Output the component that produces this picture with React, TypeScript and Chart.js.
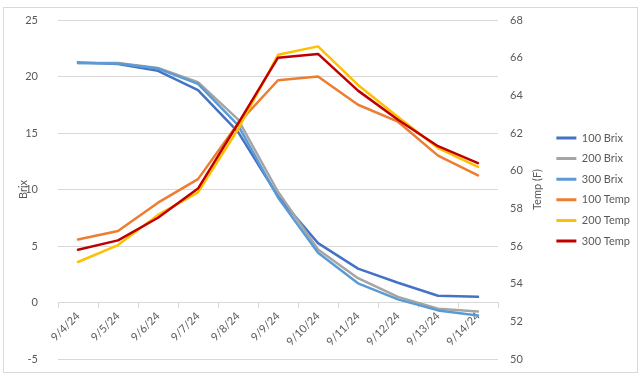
import React, { useEffect, useRef } from 'react';
import { Chart, registerables } from 'chart.js';

Chart.register(...registerables);

const categories = ['9/4/24', '9/5/24', '9/6/24', '9/7/24', '9/8/24', '9/9/24', '9/10/24', '9/11/24', '9/12/24', '9/13/24', '9/14/24'];

const brix100 = [21.25, 21.1, 20.5, 18.8, 15.1, 9.4, 5.25, 3.0, 1.75, 0.6, 0.5];
const brix200 = [21.2, 21.2, 20.75, 19.5, 16.2, 9.8, 4.7, 2.15, 0.5, -0.55, -0.8];
const brix300 = [21.2, 21.15, 20.7, 19.35, 15.7, 9.3, 4.4, 1.7, 0.28, -0.7, -1.15];
const temp100 = [56.35, 56.8, 58.3, 59.55, 62.5, 64.8, 65.0, 63.5, 62.6, 60.8, 59.75];
const temp200 = [55.15, 56.05, 57.65, 58.85, 62.2, 66.15, 66.6, 64.55, 62.85, 61.2, 60.2];
const temp300 = [55.8, 56.3, 57.5, 59.05, 62.5, 66.0, 66.2, 64.25, 62.7, 61.3, 60.4];

const seriesNames = ['100 Brix', '200 Brix', '300 Brix', '100 Temp', '200 Temp', '300 Temp'];
const seriesColors = ['#4472C4', '#A5A5A5', '#5B9BD5', '#ED7D31', '#FFC000', '#C00000'];

const brixTicks = { min: -5, max: 25, step: 5 };
const tempTicks = { min: 50, max: 68, step: 2 };
const leftAxisTitle = 'Brix';
const rightAxisTitle = 'Temp (F)';

export default function App() {
  const ref = useRef<HTMLCanvasElement>(null);

  useEffect(() => {
    document.body.style.margin = '0';
    const canvas = ref.current;
    if (!canvas) return;
    const FONT = 'Lato';
    const textColor = '#595959';
    const gridColor = '#D9D9D9';
    const padRight = 0;
    const plotRight = 498;

    const rightTitlePlugin = {
      id: 'rightTitle',
      afterDraw(chart: any) {
        const c = chart.ctx;
        const area = chart.chartArea;
        c.save();
        c.font = `11px ${FONT}`;
        c.fillStyle = textColor;
        c.translate(537, (area.top + area.bottom) / 2);
        c.rotate(-Math.PI / 2);
        c.textAlign = 'center';
        c.textBaseline = 'middle';
        c.fillText(rightAxisTitle, 0, 0);
        c.restore();
      },
    };

    const allSeries = [brix100, brix200, brix300, temp100, temp200, temp300];

    const chart = new Chart(canvas, {
      type: 'line',
      data: {
        labels: categories,
        datasets: allSeries.map((values, i) => ({
          label: seriesNames[i],
          data: values,
          borderColor: seriesColors[i],
          backgroundColor: seriesColors[i],
          borderWidth: 2.5,
          pointRadius: 0,
          tension: 0,
          borderJoinStyle: 'round' as const,
          borderCapStyle: 'round' as const,
          yAxisID: i < 3 ? 'y' : 'y1',
          order: 6 - i,
        })),
      },
      options: {
        animation: false,
        responsive: false,
        devicePixelRatio: 1,
        layout: { padding: { left: 0, top: 20, right: padRight, bottom: 17 } },
        plugins: {
          tooltip: { enabled: false },
          legend: {
            position: 'right',
            labels: {
              boxWidth: 20,
              boxHeight: 3,
              padding: 9.6,
              color: textColor,
              font: { family: FONT, size: 11 },
              generateLabels: (ch: any) =>
                ch.data.datasets.map((ds: any, i: number) => ({
                  text: ds.label,
                  fillStyle: ds.borderColor,
                  strokeStyle: ds.borderColor,
                  lineWidth: 0,
                  hidden: false,
                  datasetIndex: i,
                  fontColor: textColor,
                })),
            },
          },
        },
        scales: {
          x: {
            type: 'category',
            offset: true,
            position: { y: 0 } as any,
            grid: {
              offset: true,
              drawOnChartArea: false,
              drawTicks: true,
              tickLength: 5,
              color: gridColor,
            },
            border: { display: true, color: gridColor, width: 1 },
            ticks: {
              minRotation: 45,
              maxRotation: 45,
              autoSkip: false,
              padding: 2,
              color: textColor,
              font: { family: FONT, size: 11 },
            },
            afterFit(s: any) {
              s.paddingLeft = 0;
              s.paddingRight = 0;
            },
          },
          y: {
            position: 'left',
            min: brixTicks.min,
            max: brixTicks.max,
            ticks: {
              stepSize: brixTicks.step,
              padding: 20,
              color: textColor,
              font: { family: FONT, size: 11 },
            },
            grid: { color: gridColor, drawTicks: false },
            border: { display: false },
            title: {
              display: true,
              text: leftAxisTitle,
              color: textColor,
              font: { family: FONT, size: 11 },
              padding: { top: 17, bottom: 0 },
            },
            afterFit(s: any) {
              s.width = 58;
              s.paddingTop = 0;
              s.paddingBottom = 0;
            },
          },
          y1: {
            position: 'right',
            min: tempTicks.min,
            max: tempTicks.max,
            ticks: {
              stepSize: tempTicks.step,
              padding: 12,
              color: textColor,
              font: { family: FONT, size: 11 },
            },
            grid: { drawOnChartArea: false, drawTicks: false },
            border: { display: false },
            afterFit(s: any) {
              const lg = s.chart.legend;
              const lw = lg && lg.width ? lg.width : 94;
              s.width = Math.max(10, s.chart.width - padRight - lw - plotRight);
              s.paddingTop = 0;
              s.paddingBottom = 0;
            },
          },
        },
      } as any,
      plugins: [rightTitlePlugin],
    });

    return () => chart.destroy();
  }, []);

  return (
    <div style={{ position: 'relative', width: 640, height: 376 }}>
      <canvas ref={ref} width={640} height={376} style={{ display: 'block', width: 640, height: 376 }} />
      <div
        style={{
          position: 'absolute',
          left: 3,
          top: 7,
          width: 633,
          height: 364,
          border: '1px solid #D9D9D9',
          pointerEvents: 'none',
        }}
      />
    </div>
  );
}
